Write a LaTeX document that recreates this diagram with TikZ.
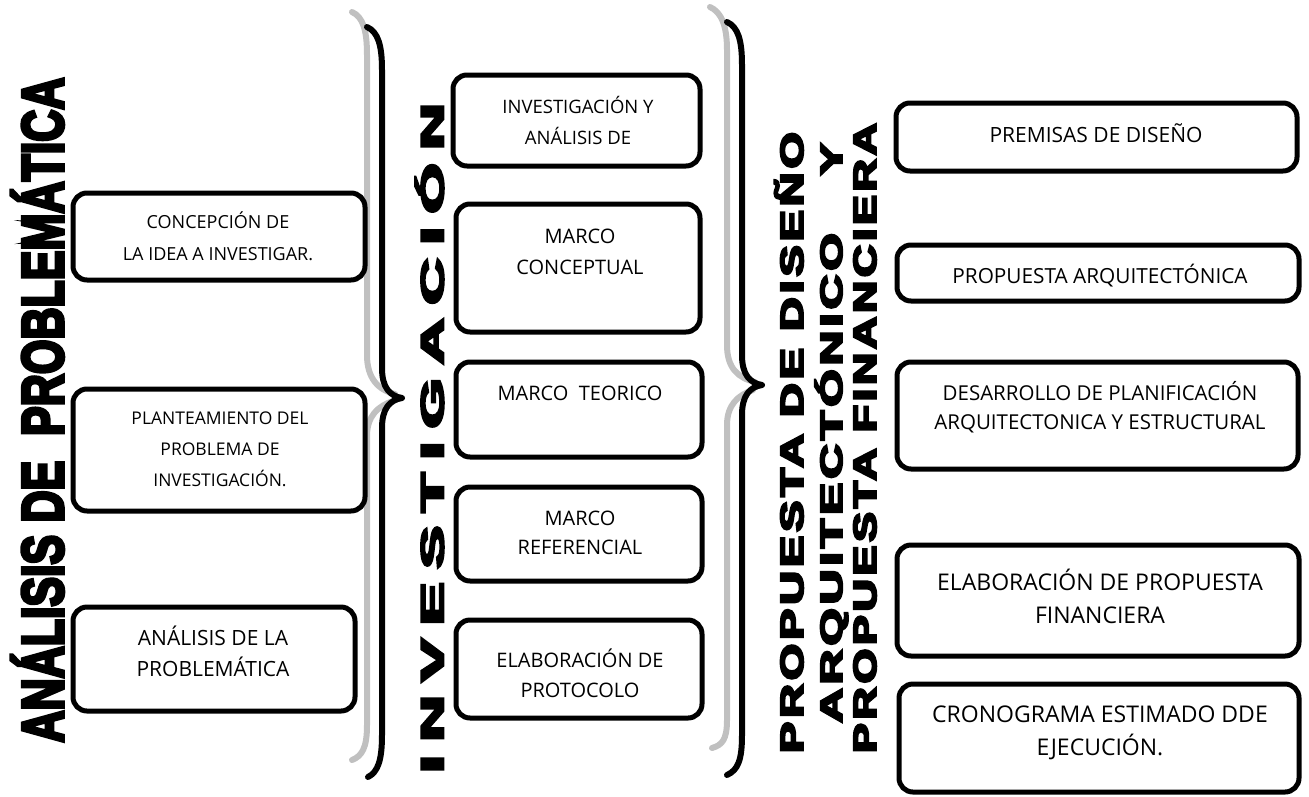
\documentclass[tikz,border=0pt]{standalone}
\usepackage{fontspec}
\usetikzlibrary{fit}
\setmainfont{Open Sans}
\newfontfamily\heavy{Liberation Sans Bold}[FakeBold=6]
\newfontfamily\heavysp{Liberation Sans Bold}[FakeBold=6,LetterSpace=20]
\newfontfamily\heavysq{Liberation Sans Bold}[FakeBold=6,LetterSpace=8]
\definecolor{grey1}{RGB}{192,192,192}
\newcommand{\setfs}[2]{\fontsize{#1}{#2}\selectfont}
\newcommand{\vtitle}[3]{\resizebox{#1}{#2}{\raisebox{0pt}[0.716em][0pt]{#3}}}
\tikzset{
  box/.style={draw=black, line width=5pt, rounded corners=14pt, inner sep=0pt},
  txt/.style={align=center, inner sep=0pt},
  bblack/.style={draw=black, line width=6pt, line cap=round, line join=round},
  bgrey/.style={draw=grey1, line width=6pt, line cap=round, line join=round},
  vt/.style={rotate=90, inner sep=0pt},
}
\begin{document}
\begin{tikzpicture}[x=1pt,y=-1pt]
\path[use as bounding box, fill=white] (0,0) rectangle (1309,796);

% braces
\draw[bgrey] (352,12) .. controls (363,17) and (367,30) .. (367,55) -- (367,355) .. controls (367,378) and (378,390) .. (395,394);
\draw[bgrey] (393,401) .. controls (378,406) and (367,416) .. (367,436) -- (367,725) .. controls (367,748) and (362,756) .. (352,760);
\draw[bblack] (367,27) .. controls (378,32) and (382,45) .. (382,70) -- (382,368) .. controls (382,388) and (390,396) .. (402,398) .. controls (390,400) and (382,408) .. (382,428) -- (382,735) .. controls (382,760) and (378,772) .. (368,777);

\draw[bgrey] (710,7) .. controls (721,12) and (727,25) .. (727,50) -- (727,345) .. controls (727,368) and (738,378) .. (755,382);
\draw[bgrey] (753,390) .. controls (738,395) and (727,405) .. (727,425) -- (727,720) .. controls (727,740) and (722,745) .. (712,748);
\draw[bblack] (727,22) .. controls (738,27) and (742,40) .. (742,65) -- (742,355) .. controls (742,375) and (750,383) .. (762,385) .. controls (750,387) and (742,395) .. (742,415) -- (742,735) .. controls (742,760) and (738,770) .. (727,775);

% vertical titles
\node[vt] (t1) at (42,410) {\heavy\setfs{40}{40}\vtitle{665pt}{42pt}{ANÁLISIS DE\ \ PROBLEMÁTICA}};
\node[vt] (t2) at (432,438) {\heavysp\setfs{30}{30}\vtitle{670pt}{23pt}{INVESTIGACIÓN}};
\node[vt] (t3a) at (791.5,442.5) {\heavysq\setfs{30}{30}\vtitle{621pt}{23pt}{PROPUESTA DE DISEÑO}};
\node[vt] (t3b) at (831,433) {\heavysq\setfs{30}{30}\vtitle{580pt}{22pt}{ARQUITECTÓNICO\hspace{1.2em}Y}};
\node[vt] (t3c) at (864.5,438) {\heavysq\setfs{30}{30}\vtitle{630pt}{23pt}{PROPUESTA FINANCIERA}};

% left column
\node[box, fit={(73,193) (365,280)}] (l1) {};
\node[box, fit={(73,389) (365,511)}] (l2) {};
\node[box, fit={(73,607) (355,711)}] (l3) {};
\node[txt, font=\setfs{18}{32}] (l1t) at (218,236) {CONCEPCIÓN DE\\LA IDEA A INVESTIGAR.};
\node[txt, font=\setfs{17.5}{31}] (l2t) at (220,449) {PLANTEAMIENTO DEL\\PROBLEMA DE\\INVESTIGACIÓN.};
\node[txt, font=\setfs{21}{31}] (l3t) at (213,651) {ANÁLISIS DE LA\\PROBLEMÁTICA};

% middle column
\node[box, fit={(453,75) (700,166)}] (m1) {};
\node[box, fit={(456,204) (700,332)}] (m2) {};
\node[box, fit={(456,362) (702,457)}] (m3) {};
\node[box, fit={(456,487) (702,581)}] (m4) {};
\node[box, fit={(456,620) (702,718)}] (m5) {};
\node[txt, font=\setfs{18.5}{31}] (m1t) at (578,120) {INVESTIGACIÓN Y\\ANÁLISIS DE};
\node[txt, font=\setfs{20}{31}] (m2t) at (580,252) {MARCO\\CONCEPTUAL};
\node[txt, font=\setfs{20}{31}] (m3t) at (580,393) {MARCO\ \ TEORICO};
\node[txt, font=\setfs{20}{29}] (m4t) at (580,533) {MARCO\\REFERENCIAL};
\node[txt, font=\setfs{20}{30}] (m5t) at (580,673) {ELABORACIÓN DE\\PROTOCOLO};

% right column
\node[box, fit={(896,103) (1297,171)}] (r1) {};
\node[box, fit={(897,245) (1299,301)}] (r2) {};
\node[box, fit={(897,362) (1298,469)}] (r3) {};
\node[box, fit={(897,545) (1299,656)}] (r4) {};
\node[box, fit={(899,684) (1299,792)}] (r5) {};
\node[txt, font=\setfs{21}{30}] (r1t) at (1096,133) {PREMISAS DE DISEÑO};
\node[txt, font=\setfs{20.8}{30}] (r2t) at (1100,276) {PROPUESTA ARQUITECTÓNICA};
\node[txt, font=\setfs{20.5}{29}] (r3t) at (1100,407) {DESARROLLO DE PLANIFICACIÓN\\ARQUITECTONICA Y ESTRUCTURAL};
\node[txt, font=\setfs{23}{33}] (r4t) at (1100,596) {ELABORACIÓN DE PROPUESTA\\FINANCIERA};
\node[txt, font=\setfs{23}{33}] (r5t) at (1100,733) {CRONOGRAMA ESTIMADO DDE\\EJECUCIÓN.};
\end{tikzpicture}
\end{document}
